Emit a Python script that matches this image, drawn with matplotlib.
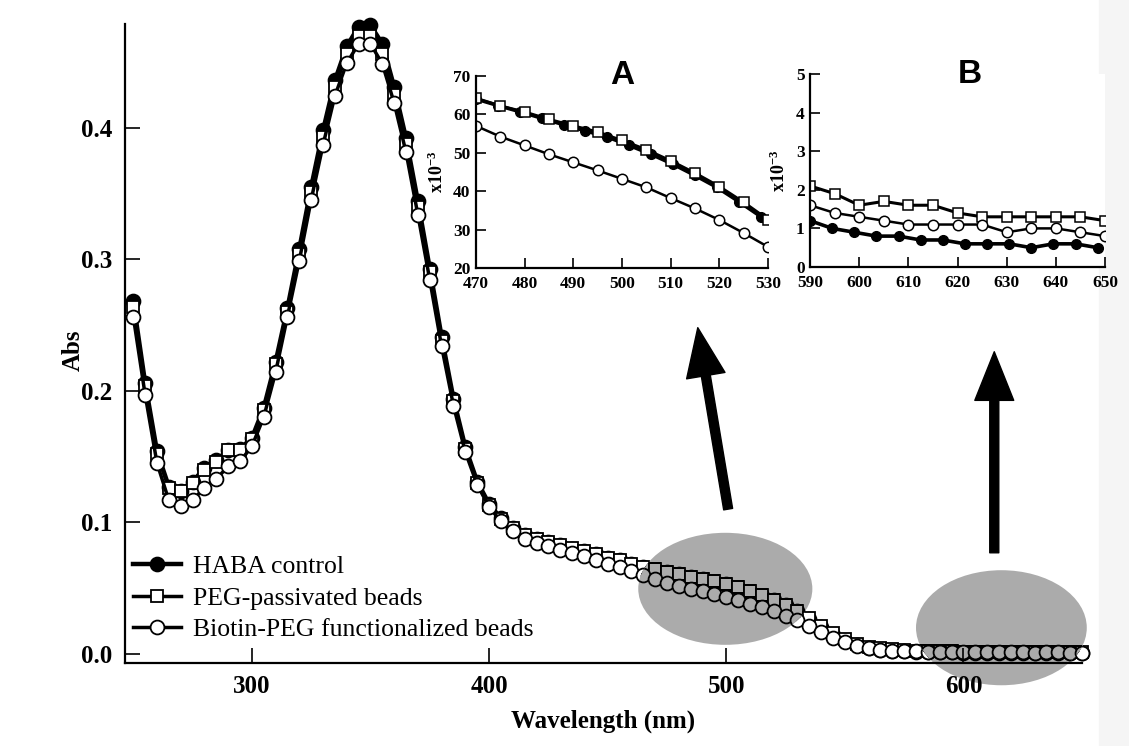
import matplotlib

matplotlib.use("Agg")
import matplotlib.pyplot as plt  # noqa: E402
import numpy as np
from matplotlib.patches import Ellipse, FancyArrowPatch, Rectangle

plt.rcParams["font.family"] = ["Liberation Serif", "DejaVu Serif"]
plt.rcParams["mathtext.fontset"] = "custom"
plt.rcParams["mathtext.rm"] = "Liberation Serif"
plt.rcParams["mathtext.bf"] = "Liberation Serif:bold"

# wavelength grid of the main spectrum (nm)
wavelength = np.arange(250, 651, 5)

haba = [
    0.268, 0.206, 0.154, 0.127, 0.124, 0.131, 0.141, 0.147, 0.155, 0.156,
    0.164, 0.187, 0.222, 0.263, 0.308, 0.355, 0.398, 0.436, 0.462, 0.477,
    0.478, 0.464, 0.431, 0.392, 0.344, 0.293, 0.241, 0.194, 0.157, 0.131,
    0.114,
    0.103, 0.0955, 0.0905, 0.087, 0.0848, 0.0825, 0.080, 0.078, 0.0755, 0.073,
    0.071, 0.0685, 0.066, 0.064, 0.0622, 0.0604, 0.0586, 0.0567, 0.0548, 0.0527,
    0.0502, 0.0472, 0.0441, 0.0407, 0.0368, 0.0325, 0.0265, 0.020, 0.0145, 0.0098,
    0.0065, 0.0042, 0.003, 0.0022, 0.0018, 0.0015, 0.0013, 0.0012, 0.001, 0.0009,
    0.0008, 0.0008, 0.0007, 0.0006, 0.0006, 0.0006, 0.0005, 0.0006, 0.0006, 0.0005,
]
peg = [
    0.264, 0.204, 0.152, 0.126, 0.1235, 0.130, 0.140, 0.146, 0.155, 0.155,
    0.163, 0.1855, 0.220, 0.260, 0.304, 0.351, 0.393, 0.431, 0.456, 0.470,
    0.470, 0.456, 0.425, 0.388, 0.340, 0.290, 0.238, 0.192, 0.156, 0.130,
    0.113,
    0.1025, 0.0955, 0.0903, 0.0873, 0.0848, 0.0825, 0.0803, 0.078, 0.0758, 0.0731,
    0.0712, 0.0686, 0.0662, 0.0642, 0.0622, 0.0606, 0.0587, 0.057, 0.0554, 0.0532,
    0.0508, 0.0479, 0.0447, 0.0412, 0.0371, 0.0326, 0.027, 0.021, 0.0155, 0.011,
    0.0075, 0.0055, 0.0042, 0.0033, 0.0028, 0.0024, 0.0022, 0.0021, 0.0019, 0.0016,
    0.0017, 0.0016, 0.0016, 0.0014, 0.0013, 0.0013, 0.0013, 0.0013, 0.0013, 0.0012,
]
biotin = [
    0.2565, 0.197, 0.145, 0.1166, 0.1125, 0.117, 0.126, 0.133, 0.1425, 0.1463,
    0.1577, 0.180, 0.214, 0.2565, 0.299, 0.3452, 0.387, 0.4243, 0.4492, 0.4639,
    0.4639, 0.4487, 0.4188, 0.3813, 0.3338, 0.2844, 0.2337, 0.1886, 0.1534, 0.1285,
    0.1118,
    0.1006, 0.093, 0.0873, 0.0843, 0.0816, 0.0791, 0.0766, 0.074, 0.0715, 0.0684,
    0.066, 0.0626, 0.0596, 0.057, 0.0542, 0.0519, 0.0496, 0.0475, 0.0454, 0.0432,
    0.041, 0.0382, 0.0355, 0.0325, 0.0291, 0.0255, 0.0208, 0.0165, 0.0119, 0.0086,
    0.006, 0.0043, 0.003, 0.0023, 0.002, 0.0018, 0.0017, 0.0016, 0.0014, 0.0013,
    0.0012, 0.0011, 0.0011, 0.0011, 0.0011, 0.0009, 0.001, 0.001, 0.0009, 0.0008,
]

# HABA control in the insets was sampled on its own grid
haba_a_wl = [470, 474.5, 479, 483.5, 488, 492.5, 497, 501.5, 506, 510.5, 515, 519.5, 524, 528.5]
haba_a = [64.0, 62.3, 60.7, 59.0, 57.3, 55.7, 54.1, 51.9, 49.6, 47.0, 44.1, 41.0, 37.3, 33.4]
haba_b_wl = [590, 594.5, 599, 603.5, 608, 612.5, 617, 621.5, 626, 630.5, 635, 639.5, 644, 648.5]
haba_b = [1.2, 1.0, 0.9, 0.8, 0.8, 0.7, 0.7, 0.6, 0.6, 0.6, 0.5, 0.6, 0.6, 0.5]

labels = ["HABA control", "PEG-passivated beads", "Biotin-PEG functionalized beads"]
GREY = "#ababab"

fig = plt.figure(figsize=(11.29, 7.46), dpi=100)
fig.patches.append(Rectangle((0.973, 0), 0.027, 1, transform=fig.transFigure,
                             color="#f5f5f5", zorder=-5))

ax = fig.add_axes([0.1107, 0.1113, 0.8477, 0.8566])
ax.patch.set_alpha(0)

styles = [
    dict(marker="o", ms=10, mfc="black", mec="black", lw=3.2),
    dict(marker="s", ms=9, mfc="white", mec="black", lw=2.5),
    dict(marker="o", ms=10, mfc="white", mec="black", lw=2.5),
]
series = [haba, peg, biotin]
for ys, st, lab in zip(series, styles, labels):
    ax.plot(wavelength, ys, color="black", mew=1.3, label=lab, zorder=2, clip_on=False, **st)

# grey highlight ellipses over the zoomed regions; markers inside get grey faces
for cx, cy, w, h in [(499.6, 0.0494, 73.4, 0.0852), (616.0, 0.0198, 72.0, 0.0875)]:
    ell = Ellipse((cx, cy), w, h, facecolor=GREY, edgecolor="none", zorder=3, clip_on=False)
    ax.add_patch(ell)
    for ys, st in zip(series, styles):
        st2 = dict(st)
        if st2["mfc"] == "white":
            st2["mfc"] = GREY
        (ln,) = ax.plot(wavelength, ys, color="black", mew=1.3, zorder=4, **st2)
        ln.set_clip_path(ell)

# arrows pointing to the insets
for (x0, y0), (x1, y1) in [((500.8, 0.110), (488.0, 0.248)), ((613.0, 0.0768), (613.0, 0.2297))]:
    ax.add_patch(FancyArrowPatch((x0, y0), (x1, y1), mutation_scale=1,
                                 arrowstyle="simple,head_length=35,head_width=28,tail_width=6.5",
                                 color="black", shrinkA=0, shrinkB=0, zorder=5))

ax.set_xlim(246.5, 650)
ax.set_ylim(-0.007, 0.479)
ax.set_xticks([300, 400, 500, 600])
ax.set_yticks([0.0, 0.1, 0.2, 0.3, 0.4])
ax.yaxis.set_major_formatter(matplotlib.ticker.FormatStrFormatter("%.1f"))
ax.tick_params(direction="in", length=11, width=1.2, pad=9, labelsize=18)
for t in ax.get_xticklabels() + ax.get_yticklabels():
    t.set_fontweight("bold")
for s in ["top", "right"]:
    ax.spines[s].set_visible(False)
for s in ["left", "bottom"]:
    ax.spines[s].set_linewidth(1.6)
    ax.spines[s].set_zorder(6)
ax.xaxis.set_zorder(6)
ax.set_xlabel("Wavelength (nm)", fontsize=18, fontweight="bold", labelpad=8)
ax.set_ylabel("Abs", fontsize=18, fontweight="bold")
ax.yaxis.set_label_coords(-0.042, 0.49)

handles, _ = ax.get_legend_handles_labels()
ax.legend(handles, labels, loc="lower left", bbox_to_anchor=(0.008, 0.034), frameon=False,
          fontsize=18.5, handlelength=1.9, handletextpad=0.45, labelspacing=0.33,
          borderpad=0, borderaxespad=0)


def inset(rect, x_lo, x_hi, y_lo, y_hi, xt, yt, title, title_x, label_x, haba_wl, haba_vals):
    ia = fig.add_axes(rect)
    ia.patch.set_facecolor("white")
    mask = (wavelength >= x_lo) & (wavelength <= x_hi)
    ia.plot(haba_wl, haba_vals, color="black", marker="o", ms=7, mfc="black", lw=2.6)
    ia.plot(wavelength[mask], np.array(peg)[mask] * 1000, color="black", marker="s", ms=7,
            mfc="white", mew=1.1, lw=2.2)
    ia.plot(wavelength[mask], np.array(biotin)[mask] * 1000, color="black", marker="o", ms=7.5,
            mfc="white", mew=1.1, lw=1.8)
    ia.set_xlim(x_lo, x_hi)
    ia.set_ylim(y_lo, y_hi)
    ia.set_xticks(xt)
    ia.set_yticks(yt)
    ia.tick_params(direction="in", length=7, width=1.2, labelsize=12.5)
    ia.tick_params(axis="x", pad=6)
    ia.tick_params(axis="y", pad=4)
    for t in ia.get_xticklabels() + ia.get_yticklabels():
        t.set_fontweight("bold")
    for s in ["top", "right"]:
        ia.spines[s].set_visible(False)
    for s in ["left", "bottom"]:
        ia.spines[s].set_linewidth(1.6)
    ia.set_ylabel(r"$\mathbf{x10^{-3}}$", fontsize=13)
    ia.yaxis.set_label_coords(label_x, 0.5)
    ia.text(title_x, 1.0, title, transform=ia.transAxes, ha="center", va="center",
            fontsize=24, fontweight="bold", family="Liberation Sans")
    return ia


inset([0.4216, 0.6408, 0.2586, 0.2574], 470, 530, 20, 70,
      range(470, 531, 10), range(20, 71, 10), "A", 0.5, -0.10, haba_a_wl, haba_a)
inset([0.7175, 0.6421, 0.2613, 0.2587], 590, 650, 0, 5,
      range(590, 651, 10), range(0, 6), "B", 0.54, -0.07, haba_b_wl, haba_b)

fig.savefig("out.png", dpi=100)
